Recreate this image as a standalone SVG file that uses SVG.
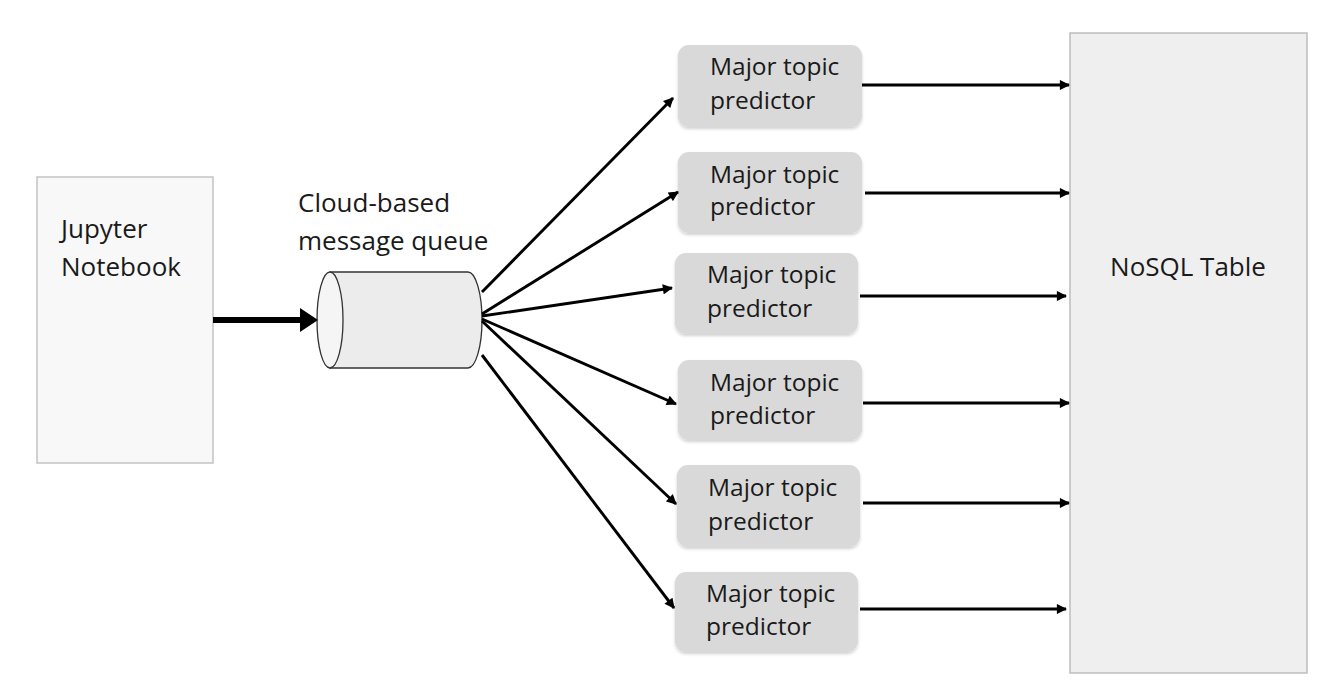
<svg xmlns="http://www.w3.org/2000/svg" width="1338" height="695" viewBox="0 0 1338 695">
<style>
text{font-family:"Open Sans","Liberation Sans",sans-serif;fill:#1a1a1a;}
.lbl{font-size:26px;}
.pt{font-size:24.5px;}
.pred{fill:#d9d9d9;}
.conn{stroke:#000;stroke-width:2.9;fill:none;marker-end:url(#ah);}
</style>
<defs>
<marker id="ah" viewBox="0 0 10 10" refX="9" refY="5" markerWidth="4" markerHeight="3.5" orient="auto" markerUnits="strokeWidth">
<path d="M0,0 L10,5 L0,10 Z" fill="#000"/>
</marker>
<filter id="sh" x="-10%" y="-10%" width="120%" height="130%">
<feDropShadow dx="0" dy="2" stdDeviation="1.5" flood-color="#000" flood-opacity="0.18"/>
</filter>
</defs>
<rect width="1338" height="695" fill="#fff"/>
<g id="jupyter">
<rect x="37" y="177" width="176" height="286" fill="#f8f8f8" stroke="#c3c3c3" stroke-width="1.5"/>
<text class="lbl" x="61" y="238">Jupyter</text>
<text class="lbl" x="61" y="276">Notebook</text>
</g>
<g id="queue">
<text class="lbl" x="298" y="212">Cloud-based</text>
<text class="lbl" x="298" y="250">message queue</text>
<path d="M330,272 L468,272 A14,48 0 0 1 468,368 L330,368 Z" fill="#ececec" stroke="#333" stroke-width="1.3"/>
<ellipse cx="330" cy="320" rx="13" ry="48" fill="#f5f5f5" stroke="#333" stroke-width="1.3"/>
</g>
<g id="nosql">
<rect x="1070" y="33" width="237" height="640" fill="#efefef" stroke="#bdbdbd" stroke-width="1.5"/>
<text class="lbl" x="1188" y="276" text-anchor="middle">NoSQL Table</text>
</g>
<g id="p1"><rect class="pred" x="678" y="45" width="184" height="82" rx="11" filter="url(#sh)"/><text class="pt" x="710" y="75">Major topic</text><text class="pt" x="710" y="109">predictor</text></g>
<g id="p2"><rect class="pred" x="678" y="152" width="184" height="81" rx="11" filter="url(#sh)"/><text class="pt" x="710" y="183">Major topic</text><text class="pt" x="710" y="215">predictor</text></g>
<g id="p3"><rect class="pred" x="675" y="253" width="183" height="81" rx="11" filter="url(#sh)"/><text class="pt" x="707" y="283">Major topic</text><text class="pt" x="707" y="317">predictor</text></g>
<g id="p4"><rect class="pred" x="678" y="360" width="184" height="80" rx="11" filter="url(#sh)"/><text class="pt" x="710" y="391">Major topic</text><text class="pt" x="710" y="424">predictor</text></g>
<g id="p5"><rect class="pred" x="677" y="465" width="183" height="82" rx="11" filter="url(#sh)"/><text class="pt" x="708" y="496">Major topic</text><text class="pt" x="708" y="530">predictor</text></g>
<g id="p6"><rect class="pred" x="675" y="572" width="183" height="80" rx="11" filter="url(#sh)"/><text class="pt" x="706" y="602">Major topic</text><text class="pt" x="706" y="635">predictor</text></g>
<g id="connectors">
<line x1="213" y1="320" x2="302" y2="320" stroke="#000" stroke-width="6"/>
<path d="M300,308 L318,320 L300,332 Z" fill="#000"/>
<line class="conn" x1="482" y1="292" x2="673" y2="98"/>
<line class="conn" x1="482" y1="314" x2="678" y2="192"/>
<line class="conn" x1="482" y1="316" x2="672" y2="288"/>
<line class="conn" x1="482" y1="319" x2="676" y2="404"/>
<line class="conn" x1="482" y1="321" x2="676" y2="504"/>
<line class="conn" x1="482" y1="355" x2="674" y2="608"/>
<line class="conn" x1="862" y1="85" x2="1069" y2="85"/>
<line class="conn" x1="865" y1="193" x2="1069" y2="193"/>
<line class="conn" x1="860" y1="296" x2="1066" y2="296"/>
<line class="conn" x1="863" y1="403" x2="1069" y2="403"/>
<line class="conn" x1="863" y1="503" x2="1069" y2="503"/>
<line class="conn" x1="860" y1="609" x2="1066" y2="609"/>
</g>
</svg>
